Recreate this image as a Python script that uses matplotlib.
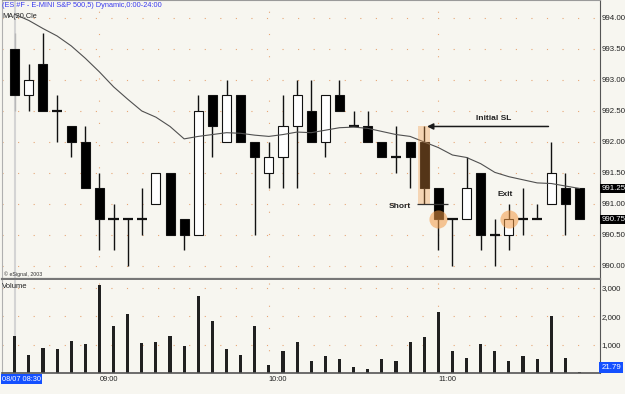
import matplotlib
matplotlib.use("Agg")
import matplotlib.pyplot as plt
import matplotlib.transforms as mtransforms
from matplotlib.patches import Rectangle

plt.rcParams['font.family'] = ['Liberation Sans', 'DejaVu Sans']

# ES 5-minute bars, 08:30 .. 12:10
opens = [993.50, 992.75, 993.25, 992.50, 992.25, 992.00, 991.25, 990.75, 990.75, 990.75,
         991.00, 991.50, 990.75, 990.50, 992.75, 992.00, 992.75, 992.00, 991.50, 991.75,
         992.25, 992.50, 992.00, 992.75, 992.25, 992.25, 992.00, 991.75, 992.00, 992.00,
         991.25, 990.75, 990.75, 991.50, 990.50, 990.50, 990.75, 990.75, 991.00, 991.25,
         991.25]
highs = [993.75, 993.25, 993.75, 992.75, 992.25, 992.25, 991.50, 991.00, 990.75, 991.25,
         991.50, 991.50, 990.75, 992.75, 992.75, 993.00, 992.75, 992.00, 992.00, 992.75,
         993.00, 993.00, 992.75, 993.00, 992.50, 992.50, 992.00, 992.25, 992.00, 992.25,
         991.25, 990.75, 991.75, 991.50, 990.75, 991.00, 991.25, 991.00, 992.00, 991.50,
         991.25]
lows = [992.50, 992.50, 992.50, 992.00, 991.75, 991.25, 990.25, 990.25, 990.00, 990.50,
        991.00, 990.50, 990.25, 990.50, 991.75, 992.00, 992.00, 990.50, 991.25, 991.25,
        991.25, 992.00, 991.75, 992.50, 992.25, 992.00, 991.75, 991.50, 991.25, 991.00,
        990.25, 990.00, 990.75, 990.25, 990.00, 990.25, 990.50, 990.75, 991.00, 990.50,
        990.75]
closes = [992.75, 993.00, 992.50, 992.50, 992.00, 991.25, 990.75, 990.75, 990.75, 990.75,
          991.50, 990.50, 990.50, 992.50, 992.25, 992.75, 992.00, 991.75, 991.75, 992.25,
          992.75, 992.00, 992.75, 992.50, 992.25, 992.00, 991.75, 991.75, 991.75, 991.25,
          990.75, 990.75, 991.25, 990.50, 990.50, 990.75, 990.75, 990.75, 991.50, 991.00,
          990.75]
ma20 = [994.06, 993.96, 993.83, 993.71, 993.55, 993.35, 993.13, 992.89, 992.69, 992.50,
        992.40, 992.25, 992.05, 992.09, 992.12, 992.15, 992.14, 992.11, 992.09, 992.12,
        992.16, 992.15, 992.19, 992.23, 992.24, 992.22, 992.17, 992.12, 992.09, 992.00,
        991.91, 991.79, 991.75, 991.65, 991.51, 991.44, 991.39, 991.34, 991.33, 991.29,
        991.25]
volumes = [1320, 650, 900, 860, 1130, 1040, 3120, 1670, 2100, 1060,
           1090, 1320, 950, 2710, 1840, 850, 650, 1670, 290, 770,
           1110, 420, 590, 480, 210, 140, 480, 410, 1110, 1270,
           2170, 770, 540, 1040, 770, 420, 590, 480, 2000, 540,
           22]
hour_idx = [6, 18, 30]
hour_labels = ["09:00", "10:00", "11:00"]
price_ticks = [990.0, 990.5, 991.0, 991.5, 992.0, 992.5, 993.0, 993.5, 994.0]
vol_ticks = [1000, 2000, 3000]

# trade annotations
sl_bar, sl_price = 29, 992.25
entry_bar, entry_price = 30, 991.00
exit_bar = 35

bg = "#f7f6f0"
grid_c = "#e6a676"
fig = plt.figure(figsize=(6.25, 3.94), dpi=100, facecolor=bg)
ax = fig.add_axes([2/625, 115/394, 598/625, 279/394], facecolor=bg)
axv = fig.add_axes([2/625, 21/394, 598/625, 93/394], facecolor=bg, sharex=ax)

n = len(closes)
ax.set_xlim(-0.9, 41.45)
ax.set_ylim(989.79, 994.29)
axv.set_ylim(0, 3283)

# grids
for p in price_ticks:
    ax.axhline(p, color=grid_c, lw=0.8, ls=(0, (1, 13)), zorder=0)
for v in [500, 1000, 1500, 2000, 2500, 3000]:
    if v in vol_ticks:
        axv.axhline(v, color=grid_c, lw=0.8, ls=(0, (1, 13)), zorder=0)
for h in hour_idx:
    ax.axvline(h, color=grid_c, lw=0.8, ls=(0, (1, 19)), zorder=0)
    axv.axvline(h, color=grid_c, lw=0.8, ls=(0, (1, 19)), zorder=0)

# cursor line on first bar
ax.axvline(0, color="#d4d4d4", lw=1.5, zorder=0.5)
axv.axvline(0, color="#d4d4d4", lw=1.5, zorder=0.5)

# candles
bw = 0.64
for i in range(n):
    o, h, l, c = opens[i], highs[i], lows[i], closes[i]
    wc = "#b8b8b8" if i == 0 else "#111111"
    ax.vlines(i, l, h, color=wc, lw=1, zorder=2)
    if o == c:
        ax.hlines(o, i - 0.36, i + 0.36, color="#111111", lw=1.6, zorder=3)
    else:
        fc = "#000000" if c < o else "#ffffff"
        ax.add_patch(Rectangle((i - bw/2, min(o, c)), bw, abs(c - o),
                               facecolor=fc, edgecolor="#111111", lw=0.8, zorder=3))

ax.plot(range(n), ma20, color="#505050", lw=0.8, zorder=4)

# stop-loss highlight on the signal bar
ax.add_patch(Rectangle((sl_bar - 0.42, entry_price), 0.84, sl_price - entry_price,
                       facecolor="#f39a45", alpha=0.35, lw=0, zorder=5))
ax.annotate("", xy=(sl_bar + 0.2, sl_price), xytext=(37.8, sl_price),
            arrowprops=dict(arrowstyle="-|>", color="#1a1a1a", lw=1.1,
                            mutation_scale=9, shrinkA=0, shrinkB=0), zorder=6)
ax.text(33.9, 992.33, "Initial SL", ha="center", va="bottom", fontsize=6,
        fontweight="bold", color="#222222")
ax.hlines(entry_price, 28.47, 30.7, color="#333333", lw=0.9, zorder=6)
ax.text(27.3, 990.96, "Short", ha="center", va="center", fontsize=6,
        fontweight="bold", color="#222222")
ax.scatter([entry_bar, exit_bar], [closes[entry_bar], closes[exit_bar]], s=170,
           color="#f39a45", alpha=0.55, lw=0, zorder=6)
ax.text(exit_bar - 0.28, 991.16, "Exit", ha="center", va="center", fontsize=6,
        fontweight="bold", color="#222222")

# volume
axv.bar(range(n), volumes, width=0.22, color="#202020", zorder=2)

# axes styling
for a in (ax, axv):
    a.yaxis.tick_right()
    a.tick_params(axis="y", length=0, pad=1, labelsize=5.7, colors="#222222")
    a.spines["right"].set_color("#555555")
    a.spines["left"].set_color("#b0b0b0")
    a.spines["left"].set_linewidth(0.8)
ax.spines["top"].set_color("#9a9a9a")
ax.spines["bottom"].set_color("#777777")
ax.spines["bottom"].set_linewidth(1.6)
axv.spines["top"].set_visible(False)
axv.spines["bottom"].set_color("#555555")
axv.spines["bottom"].set_linewidth(1.2)

ax.set_yticks(price_ticks)
ax.set_yticklabels([f"{p:.2f}" for p in price_ticks])
axv.set_yticks(vol_ticks)
axv.set_yticklabels([f"{v:,}" for v in vol_ticks])
ax.tick_params(axis="x", bottom=False, labelbottom=False)
axv.set_xticks(hour_idx)
axv.set_xticklabels(hour_labels, ha="left")
axv.tick_params(axis="x", length=0, pad=2, labelsize=5.3, colors="#222222")

# right-side value boxes
tp = mtransforms.blended_transform_factory(ax.transAxes, ax.transData)
for val in (ma20[-1], closes[-1]):
    ax.text(1.002, val, f"{val:.2f}", transform=tp, ha="left", va="center",
            fontsize=5.7, color="white", clip_on=False,
            bbox=dict(boxstyle="square,pad=0.15", fc="#000000", ec="none"))
tv = mtransforms.blended_transform_factory(axv.transAxes, axv.transData)
axv.text(1.002, 60, f"{volumes[-1] - 0.21:.2f}", transform=tv, ha="left", va="bottom",
         fontsize=5.7, color="white", clip_on=False,
         bbox=dict(boxstyle="square,pad=0.25", fc="#1450ff", ec="none"))
axv.text(0.0, -0.03, "08/07 08:30", transform=axv.transAxes, ha="left", va="top",
         fontsize=5.3, color="white", clip_on=False,
         bbox=dict(boxstyle="square,pad=0.2", fc="#1450ff", ec="none"))

# labels
ax.text(0.0, 0.992, "(ES #F - E-MINI S&P 500,5) Dynamic,0:00-24:00", transform=ax.transAxes,
        ha="left", va="top", fontsize=5.3, color="#3b3bef")
ax.text(0.0, 0.955, "MA(20,Cle", transform=ax.transAxes, ha="left", va="top",
        fontsize=5.3, color="#222222")
ax.text(0.004, 0.008, "© eSignal, 2003", transform=ax.transAxes, ha="left", va="bottom",
        fontsize=3.8, color="#333333")
axv.text(0.0, 0.97, "Volume", transform=axv.transAxes, ha="left", va="top",
         fontsize=5.5, color="#222222")

fig.savefig("out.png", dpi=100, facecolor=bg)
